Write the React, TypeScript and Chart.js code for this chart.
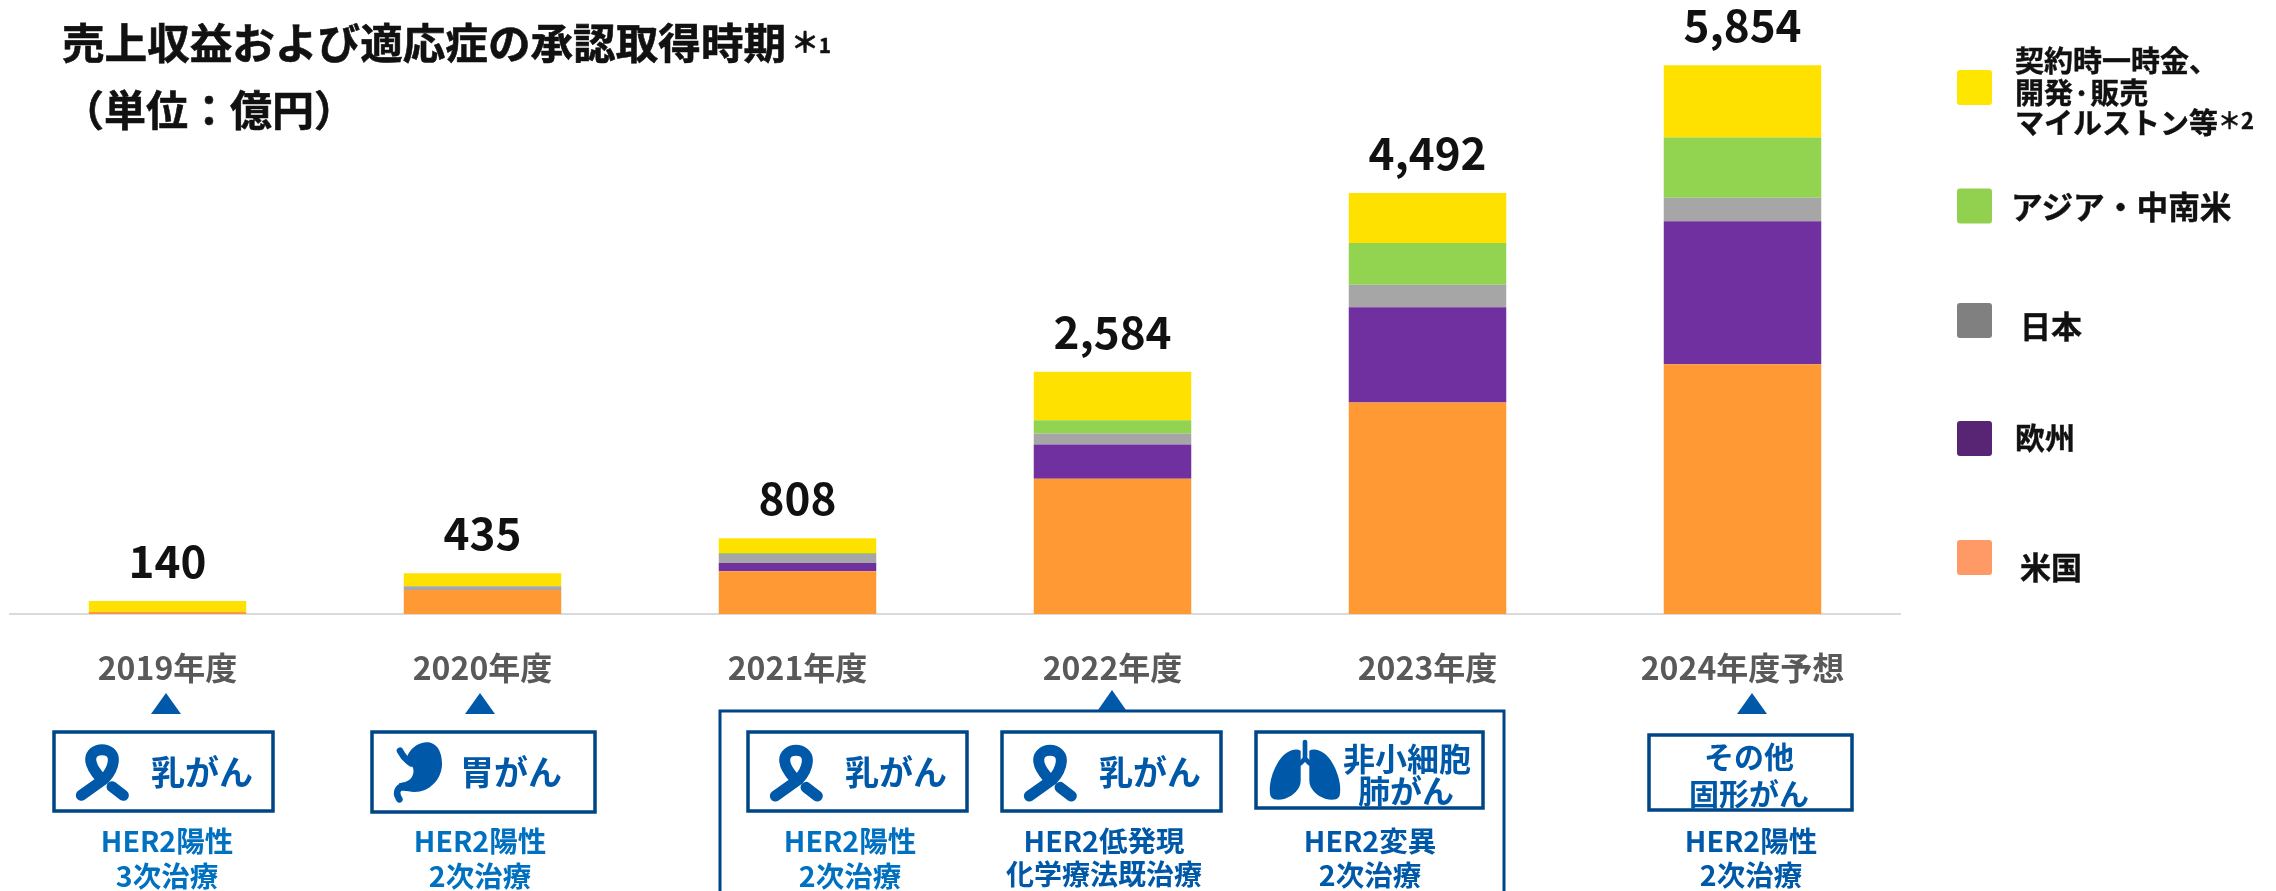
import React, { useEffect, useRef } from "react";
import { Chart, registerables } from "chart.js";

Chart.register(...registerables);

const FONT = '"Noto Sans CJK JP", "Noto Sans", sans-serif';

const categories = ["2019年度", "2020年度", "2021年度", "2022年度", "2023年度", "2024年度予想"];
const totals = [140, 435, 808, 2584, 4492, 5854];
const usValues = [25, 255, 455, 1442, 2255, 2665];
const europeValues = [0, 0, 89, 366, 1017, 1525];
const japanValues = [0, 42, 96, 117, 240, 250];
const asiaValues = [0, 0, 11, 142, 445, 643];
const milestoneValues = [115, 138, 157, 517, 535, 771];

const seriesNames = ["米国", "欧州", "日本", "アジア・中南米", "契約時一時金、開発·販売マイルストン等"];
const seriesColors = ["#FF9933", "#7030A0", "#A6A6A6", "#92D450", "#FFE100"];

const BLUE = "#0058A8";
const LIGHT = "#0070C0";
const NAVY = "#004585";

function T({ x, y, size, color = "#111", children, align = "center", stroke = 0 }: any) {
  const tx = align === "center" ? "-50%" : "0";
  return (
    <div
      style={{
        position: "absolute",
        left: x,
        top: y,
        transform: `translate(${tx}, -50%)`,
        fontFamily: FONT,
        fontWeight: 700,
        fontSize: size,
        color,
        lineHeight: 1,
        whiteSpace: "nowrap",
        WebkitTextStroke: stroke ? `${stroke}px ${color}` : undefined,
      }}
    >
      {children}
    </div>
  );
}

const Sup = ({ star, digit, starSize, digitSize, dy, gap }: any) => (
  <span style={{ position: "relative", top: dy, marginLeft: gap }}>
    <span style={{ fontSize: starSize }}>{star}</span>
    <span style={{ fontSize: digitSize }}>{digit}</span>
  </span>
);

function Ribbon({ x, y }: { x: number; y: number }) {
  return (
    <g transform={`translate(${x} ${y}) scale(0.3333) translate(-170 -92)`} fill="none" stroke={BLUE} strokeWidth={33} strokeLinecap="round">
      <path d="M256 288 L326 238 C346 216 352 196 352 180 C352 162 336 151 318 151 C300 151 284 162 284 180 C284 198 296 216 312 234" />
      <path d="M348 262 L382 288" />
    </g>
  );
}

function Stomach({ x, y }: { x: number; y: number }) {
  return (
    <g transform={`translate(${x} ${y}) scale(0.3333) translate(-88 -30)`}>
      <path fill={BLUE} d="M200 108 C214 76 245 62 270 68 C295 75 305 105 304 135 C302 180 265 216 222 216 C205 216 195 211 180 213 L175 190 C190 186 205 186 214 170 C224 150 216 136 205 130 Z" />
      <path fill="none" stroke={BLUE} strokeWidth={20} strokeLinecap="round" d="M178 92 C186 108 196 120 212 130" />
      <path fill="none" stroke={BLUE} strokeWidth={20} strokeLinecap="round" d="M200 198 C176 196 160 212 176 238" />
    </g>
  );
}

function Lungs({ x, y }: { x: number; y: number }) {
  const lung = "M303 152 C284 142 256 156 238 182 C216 216 206 258 212 286 C216 302 238 301 256 296 C282 286 303 266 303 242 L303 192 Z";
  return (
    <g transform={`translate(${x} ${y}) scale(0.3333) translate(-163 -92)`} fill={BLUE}>
      <path d={lung} />
      <path d={lung} transform="translate(632 0) scale(-1 1)" />
      <path d="M316 126 L316 176 M316 176 L302 190 M316 176 L330 190" fill="none" stroke={BLUE} strokeWidth={14} strokeLinecap="round" />
    </g>
  );
}

function Box({ x, y, w, h }: { x: number; y: number; w: number; h: number }) {
  return <rect x={x} y={y} width={w} height={h} fill="#fff" stroke={NAVY} strokeWidth={3.5} />;
}

function Tri({ cx, top, base, w }: { cx: number; top: number; base: number; w: number }) {
  return <polygon points={`${cx},${top} ${cx - w / 2},${base} ${cx + w / 2},${base}`} fill={BLUE} />;
}

function Swatch({ y, color }: { y: number; color: string }) {
  return <rect x={1957} y={y} width={35} height={35} rx={3} fill={color} />;
}

export default function App() {
  const ref = useRef<HTMLCanvasElement>(null);

  useEffect(() => {
    const values = [usValues, europeValues, japanValues, asiaValues, milestoneValues];
    const totalLabels = {
      id: "totalLabels",
      afterDatasetsDraw(chart: any) {
        const ctx = chart.ctx;
        const meta = chart.getDatasetMeta(values.length - 1);
        ctx.save();
        ctx.font = `700 44px ${FONT}`;
        ctx.fillStyle = "#111";
        ctx.textAlign = "center";
        ctx.textBaseline = "alphabetic";
        totals.forEach((t, i) => {
          ctx.fillText(t.toLocaleString("en-US"), meta.data[i].x, meta.data[i].y - 23);
        });
        ctx.restore();
      },
    };
    const chart = new Chart(ref.current!, {
      type: "bar",
      data: {
        labels: categories,
        datasets: values.map((data, i) => ({
          label: seriesNames[i],
          data,
          backgroundColor: seriesColors[i],
          borderWidth: 0,
          categoryPercentage: 1,
          barPercentage: 0.5,
        })),
      },
      options: {
        animation: false,
        responsive: false,
        maintainAspectRatio: false,
        layout: { padding: { left: 10, right: 376, top: 14, bottom: 0 } },
        plugins: { legend: { display: false }, tooltip: { enabled: false }, title: { display: false } },
        scales: {
          x: {
            stacked: true,
            grid: { display: false, drawTicks: false },
            border: { display: true, color: "#DADADA", width: 2 },
            ticks: {
              color: "#595959",
              font: { family: FONT, size: 32, weight: "bold" },
              padding: 35,
              maxRotation: 0,
              autoSkip: false,
            },
            afterFit(scale: any) {
              scale.height = 277;
            },
          },
          y: { stacked: true, display: false, min: 0, max: 6400 },
        },
      },
      plugins: [totalLabels],
    } as any);
    return () => chart.destroy();
  }, []);

  return (
    <div style={{ position: "fixed", left: 0, top: 0, width: 2276, height: 891, background: "#fff", overflow: "hidden" }}>
      <canvas ref={ref} width={2276} height={891} style={{ position: "absolute", left: 0, top: 0 }} />
      <svg width={2276} height={891} style={{ position: "absolute", left: 0, top: 0 }}>
        <rect x={720} y={711} width={784} height={200} fill="none" stroke={NAVY} strokeWidth={3} />
        <Tri cx={166} top={693} base={714} w={30} />
        <Tri cx={480} top={693} base={714} w={30} />
        <Tri cx={1112} top={690} base={710} w={28} />
        <Tri cx={1752} top={693} base={714} w={30} />
        <Box x={54} y={732} w={219} h={79} />
        <Box x={372} y={732} w={223} h={80} />
        <Box x={748} y={732} w={219} h={79} />
        <Box x={1002} y={732} w={219} h={79} />
        <Box x={1256} y={732} w={227} h={76} />
        <Box x={1649} y={735} w={203} h={75} />
        <Ribbon x={52.7} y={730} />
        <Ribbon x={746.7} y={730.7} />
        <Ribbon x={1000.7} y={730.7} />
        <Stomach x={370} y={730} />
        <Lungs x={1254} y={730.7} />
        <Swatch y={70} color="#FFE600" />
        <Swatch y={188.5} color="#92D050" />
        <Swatch y={303} color="#808080" />
        <Swatch y={421} color="#582575" />
        <Swatch y={540} color="#FF9966" />
      </svg>

      <T x={62} y={41} size={42.6} align="left" stroke={0.6}>
        売上収益および適応症の承認取得時期
        <Sup star="＊" digit="1" starSize={28} digitSize={20} dy={-6} gap={5} />
      </T>
      <T x={62} y={108} size={42} align="left" stroke={0.6}>（単位：億円）</T>

      <T x={2015} y={59} size={29} align="left" stroke={0.4}>契約時一時金、</T>
      <T x={2015} y={90.5} size={29} align="left" stroke={0.4}>開発·販売</T>
      <T x={2015} y={120.5} size={29} align="left" stroke={0.4}>
        マイルストン等
        <Sup star="＊" digit="2" starSize={23} digitSize={22} dy={-5} gap={0} />
      </T>
      <T x={2011} y={205.5} size={31.7} align="left" stroke={0.4}>アジア・中南米</T>
      <T x={2020} y={323.5} size={31} align="left" stroke={0.4}>日本</T>
      <T x={2015} y={436} size={30} align="left" stroke={0.4}>欧州</T>
      <T x={2020} y={564.5} size={31} align="left" stroke={0.4}>米国</T>

      <T x={202} y={771} size={34} color={BLUE}>乳がん</T>
      <T x={511} y={771} size={34} color={BLUE}>胃がん</T>
      <T x={896} y={771} size={34} color={BLUE}>乳がん</T>
      <T x={1150} y={771} size={34} color={BLUE}>乳がん</T>
      <T x={1407} y={757} size={32} color={BLUE}>非小細胞</T>
      <T x={1406} y={789} size={32} color={BLUE}>肺がん</T>
      <T x={1749} y={755} size={30} color={BLUE}>その他</T>
      <T x={1749} y={792} size={30} color={BLUE}>固形がん</T>

      <T x={167} y={840} size={28.5} color={LIGHT}>HER2陽性</T>
      <T x={167} y={875} size={28.5} color={LIGHT}>3次治療</T>
      <T x={480} y={840} size={28.5} color={LIGHT}>HER2陽性</T>
      <T x={480} y={875} size={28.5} color={LIGHT}>2次治療</T>
      <T x={850} y={840} size={28.5} color={LIGHT}>HER2陽性</T>
      <T x={850} y={875} size={28.5} color={LIGHT}>2次治療</T>
      <T x={1104} y={840} size={28.5} color={BLUE}>HER2低発現</T>
      <T x={1104} y={873} size={28} color={BLUE}>化学療法既治療</T>
      <T x={1370} y={840} size={28.5} color={BLUE}>HER2変異</T>
      <T x={1370} y={874} size={28.5} color={BLUE}>2次治療</T>
      <T x={1751} y={840} size={28.5} color={BLUE}>HER2陽性</T>
      <T x={1751} y={874} size={28.5} color={BLUE}>2次治療</T>
    </div>
  );
}
